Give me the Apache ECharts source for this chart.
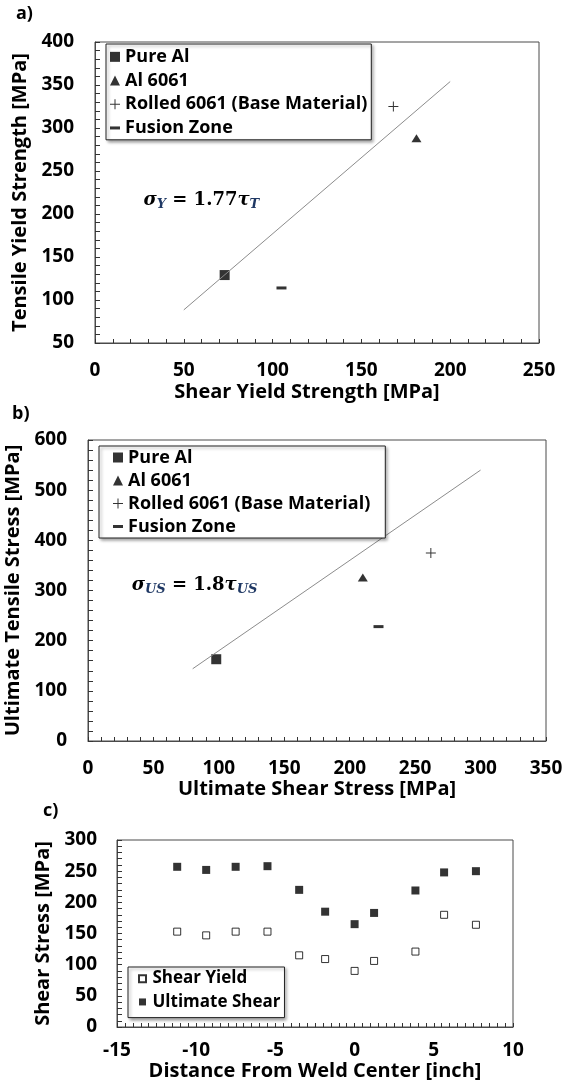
<!DOCTYPE html>
<html><head><meta charset="utf-8">
<script src="https://cdn.jsdelivr.net/npm/echarts@6/dist/echarts.min.js"></script>
<style>html,body{margin:0;padding:0;background:#fff;}#c{width:569px;height:1086px;}</style>
</head><body><div id="c"></div>
<script>
// ---------- DATA ----------
const materialNames = ['Pure Al', 'Al 6061', 'Rolled 6061 (Base Material)', 'Fusion Zone'];
// panel a: shear yield strength (x) vs tensile yield strength (y)
const yieldShear   = [73, 181, 168, 105];
const yieldTensile = [129, 288, 325, 114];
const yieldFitLine = [[50, 88.5], [200, 354]];
const yieldEquationAt = [27, 216];
// panel b: ultimate shear stress (x) vs ultimate tensile stress (y)
const ultShear   = [98, 210, 262, 222];
const ultTensile = [163, 326, 375, 228];
const ultFitLine = [[80, 144], [300, 540]];
const ultEquationAt = [33, 311];
// panel c: shear stress along the weld
const weldDistance  = [-11.2, -9.37, -7.51, -5.5, -3.5, -1.86, 0, 1.23, 3.84, 5.65, 7.66];
const shearYield    = [153, 147, 153, 153, 115, 109, 90, 106, 121, 180, 164];
const ultimateShear = [257, 252, 257, 258, 220, 185, 165, 183, 219, 248, 250];
const shearSeriesNames = ['Shear Yield', 'Ultimate Shear'];
// axis ranges / ticks
const aX = {min: 0, max: 250, interval: 50}, aY = {min: 50, max: 400, interval: 50};
const bX = {min: 0, max: 350, interval: 50}, bY = {min: 0, max: 600, interval: 100};
const cX = {min: -15, max: 10, interval: 5}, cY = {min: 0, max: 300, interval: 50};

// ---------- STYLE ----------
const FONT = 'Open Sans';
const AX = '#4a4a4a';
const TICK = '#333333';
const TXT = '#000';
const PLUS = 'path://M4.5,0 L5.5,0 L5.5,4.5 L10,4.5 L10,5.5 L5.5,5.5 L5.5,10 L4.5,10 L4.5,5.5 L0,5.5 L0,4.5 L4.5,4.5 Z';
const MINUS = 'path://M0,0 L10,0 L10,3 L0,3 Z';
const SQUARE = 'path://M0,0 L10,0 L10,10 L0,10 Z';
const materialSymbols = ['rect', 'triangle', PLUS, MINUS];
const materialSizes = [[10, 10], [10, 8], [10, 10], [10, 3]];

function xAxisOpt(idx, r, name, nameGap, labelMargin, minorSplit, namePad) {
  return {
    type: 'value', gridIndex: idx, min: r.min, max: r.max, interval: r.interval,
    name: name, nameLocation: 'middle', nameGap: nameGap,
    nameTextStyle: {fontFamily: FONT, fontWeight: 'bold', fontSize: 20, color: TXT, padding: namePad || 0},
    axisLine: {show: true, onZero: false, lineStyle: {color: AX, width: 1}},
    axisTick: {show: true, inside: true, length: 4, lineStyle: {color: TICK, width: 1}},
    minorTick: {show: true, splitNumber: minorSplit, length: 4, lineStyle: {color: TICK, width: 1}},
    splitLine: {show: false},
    axisLabel: {margin: labelMargin, fontFamily: FONT, fontWeight: 'bold', fontSize: 19, color: TXT}
  };
}
function yAxisOpt(idx, r, name, nameGap, labelMargin, minorSplit) {
  return {
    type: 'value', gridIndex: idx, min: r.min, max: r.max, interval: r.interval,
    name: name, nameLocation: 'middle', nameGap: nameGap,
    nameTextStyle: {fontFamily: FONT, fontWeight: 'bold', fontSize: 20, color: TXT},
    axisLine: {show: true, onZero: false, lineStyle: {color: AX, width: 1}},
    axisTick: {show: true, inside: true, length: 5, lineStyle: {color: TICK, width: 1}},
    minorTick: {show: true, splitNumber: minorSplit, length: 5, lineStyle: {color: TICK, width: 1}},
    splitLine: {show: false},
    axisLabel: {margin: labelMargin, fontFamily: FONT, fontWeight: 'bold', fontSize: 19, color: TXT}
  };
}
function legendOpt(left, top, names, icons, padding, fontSize, lineHeight, itemW, itemH) {
  return {
    orient: 'vertical', left: left, top: top, padding: padding, itemGap: 0,
    itemWidth: itemW, itemHeight: itemH, symbolKeepAspect: true,
    backgroundColor: '#fff', borderColor: '#222', borderWidth: 1,
    shadowColor: 'rgba(0,0,0,0.35)', shadowBlur: 3, shadowOffsetX: 2, shadowOffsetY: 2,
    selectedMode: false,
    textStyle: {fontFamily: FONT, fontWeight: 'bold', fontSize: fontSize, color: TXT, lineHeight: lineHeight},
    data: names.map((n, i) => ({name: n, icon: icons[i]}))
  };
}
function eqLabel(formatter) {
  const base = {fontFamily: 'DejaVu Serif', fontWeight: 'bold', fontSize: 18, color: '#000', lineHeight: 22};
  return {
    show: true, position: 'right', distance: 0, formatter: formatter,
    rich: {
      g: Object.assign({}, base, {fontStyle: 'italic'}),
      n: Object.assign({}, base),
      s: {fontFamily: 'DejaVu Serif', fontWeight: 'bold', fontStyle: 'italic', fontSize: 13, lineHeight: 13,
          color: '#1f3864', verticalAlign: 'bottom'}
    }
  };
}

const series = [];
materialNames.forEach((n, i) => {
  series.push({type: 'scatter', name: n, xAxisIndex: 0, yAxisIndex: 0,
    data: [[yieldShear[i], yieldTensile[i]]], symbol: materialSymbols[i], symbolSize: materialSizes[i],
    itemStyle: {color: '#000'}});
});
series.push({type: 'line', xAxisIndex: 0, yAxisIndex: 0, data: yieldFitLine, showSymbol: false, silent: true,
  lineStyle: {color: '#8c8c8c', width: 1}, itemStyle: {color: '#8c8c8c'},
  markPoint: {symbol: 'rect', symbolSize: 1, itemStyle: {color: 'rgba(0,0,0,0)'},
    data: [{coord: yieldEquationAt, label: eqLabel('{g|σ}{s|Y}{n| = 1.77}{g|τ}{s|T}')}]}});
materialNames.forEach((n, i) => {
  series.push({type: 'scatter', name: n, xAxisIndex: 1, yAxisIndex: 1,
    data: [[ultShear[i], ultTensile[i]]], symbol: materialSymbols[i], symbolSize: materialSizes[i],
    itemStyle: {color: '#000'}});
});
series.push({type: 'line', xAxisIndex: 1, yAxisIndex: 1, data: ultFitLine, showSymbol: false, silent: true,
  lineStyle: {color: '#8c8c8c', width: 1}, itemStyle: {color: '#8c8c8c'},
  markPoint: {symbol: 'rect', symbolSize: 1, itemStyle: {color: 'rgba(0,0,0,0)'},
    data: [{coord: ultEquationAt, label: eqLabel('{g|σ}{s|US}{n| = 1.8}{g|τ}{s|US}')}]}});
series.push({type: 'scatter', name: shearSeriesNames[0], xAxisIndex: 2, yAxisIndex: 2,
  data: weldDistance.map((d, i) => [d, shearYield[i]]), symbol: 'rect', symbolSize: 7,
  itemStyle: {color: '#fff', borderColor: '#000', borderWidth: 1}});
series.push({type: 'scatter', name: shearSeriesNames[1], xAxisIndex: 2, yAxisIndex: 2,
  data: weldDistance.map((d, i) => [d, ultimateShear[i]]), symbol: 'rect', symbolSize: 8,
  itemStyle: {color: '#000'}});

const gridBase = {show: true, borderColor: AX, borderWidth: 1, backgroundColor: 'transparent', containLabel: false, outerBoundsMode: 'none'};
const titleStyle = {fontFamily: FONT, fontWeight: 'bold', fontSize: 18, color: TXT};
const option = {
  animation: false,
  backgroundColor: '#fff',
  title: [
    {text: 'a)', left: 16, top: 5, padding: 0, textStyle: titleStyle},
    {text: 'b)', left: 12, top: 405, padding: 0, textStyle: titleStyle},
    {text: 'c)', left: 43, top: 802, padding: 0, textStyle: titleStyle}
  ],
  grid: [
    Object.assign({left: 95, top: 42, width: 444, height: 301}, gridBase),
    Object.assign({left: 88, top: 440, width: 458, height: 301}, gridBase),
    Object.assign({left: 117, top: 840, width: 396, height: 187}, gridBase)
  ],
  xAxis: [
    xAxisOpt(0, aX, 'Shear Yield Strength [MPa]', 39, 18, 5, [0, 20, 0, 0]),
    xAxisOpt(1, bX, 'Ultimate Shear Stress [MPa]', 38, 18, 5),
    xAxisOpt(2, cX, 'Distance From Weld Center [inch]', 33, 14, 10)
  ],
  yAxis: [
    yAxisOpt(0, aY, 'Tensile Yield Strength [MPa]', 58, 21, 5),
    yAxisOpt(1, bY, 'Ultimate Tensile Stress [MPa]', 57, 21, 5),
    yAxisOpt(2, cY, 'Shear Stress [MPa]', 56, 20, 5)
  ],
  legend: [
    legendOpt(106, 44, materialNames, ['rect', 'triangle', PLUS, MINUS], [1, 4, 0, 4], 18, 23.7, 10, 10),
    legendOpt(99, 446, materialNames, ['rect', 'triangle', PLUS, MINUS], [0, 15, 0, 14], 18, 23, 10, 10),
    legendOpt(128, 967, shearSeriesNames, [SQUARE, SQUARE], [0, 4, 4, 10], 17, 23.3, 10, 7)
  ],
  series: series
};
const chart = echarts.init(document.getElementById('c'), null, {renderer: 'canvas'});
chart.setOption(option);
</script>
</body></html>
